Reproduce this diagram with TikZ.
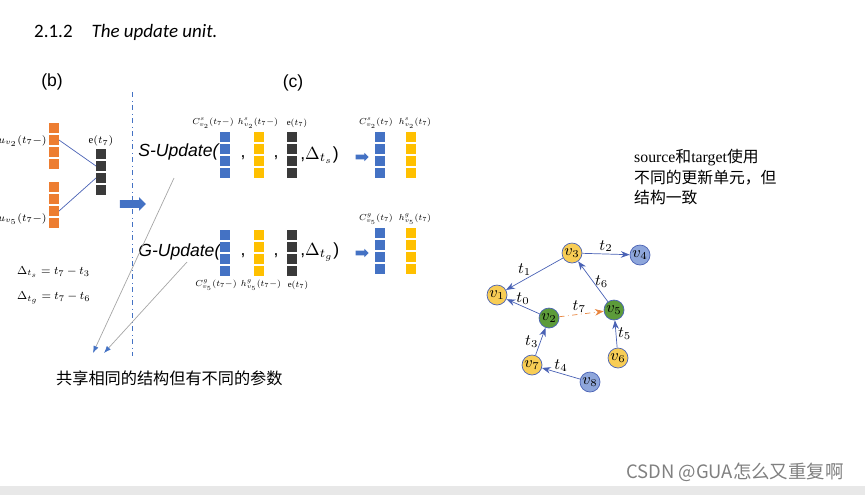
\documentclass[tikz,border=0pt]{standalone}
\usepackage{fontspec}
\setmainfont{Liberation Serif}
\newfontfamily\cjk{Noto Sans CJK SC}
\newfontfamily\arialfont{Liberation Sans}
\newfontfamily\titlefont{Carlito}
\usetikzlibrary{arrows.meta,shapes.arrows}

\definecolor{cellorange}{HTML}{ED7D31}
\definecolor{cellblue}{HTML}{4472C4}
\definecolor{cellyellow}{HTML}{FFC000}
\definecolor{cellblack}{HTML}{3A3A3A}
\definecolor{edgeblue}{HTML}{4A62B5}
\definecolor{nodeyellow}{HTML}{F8CD55}
\definecolor{nodeblue}{HTML}{8EA6DB}
\definecolor{nodegreen}{HTML}{5C9B3A}
\definecolor{tdash}{HTML}{E8853F}

\tikzset{
  cell/.style={minimum size=0.2cm, inner sep=0pt, outer sep=0pt},
  lbl/.style={font=\scriptsize, inner sep=0pt, scale=0.71, transform shape},
  ulbl/.style={font=\scriptsize, inner sep=0pt, scale=0.86, transform shape},
  eqn/.style={font=\footnotesize, scale=0.82, transform shape, anchor=west},
  upd/.style={font=\arialfont\itshape, inner sep=0pt},
  blockarrow/.style={single arrow, fill=cellblue, inner sep=2pt,
    single arrow head extend=1.7pt},
  smallarrow/.style={single arrow, fill=cellblue, inner sep=1.1pt,
    single arrow head extend=1.1pt, minimum height=0.26cm},
  vtx/.style={circle, draw=edgeblue, minimum size=0.4cm, inner sep=0pt, font=\small},
  gedge/.style={edgeblue, -{Stealth[length=5pt]}},
  tl/.style={font=\small, inner sep=1pt, text=black},
}

% column of four cells: name, x, y of top cell, colour
\newcommand\cellcol[4]{%
  \foreach \k in {0,...,3}
    \node[cell, fill=#4] (#1\k) at (#2,{#3+12*\k}) {};}

\begin{document}
\begin{tikzpicture}[x=0.02cm, y=-0.02cm]
  \useasboundingbox (0,0) rectangle (865,495);
  \fill[gray!18] (0,486) rectangle (865,495);

  \node[anchor=west, font=\titlefont\fontsize{10.8}{13}\selectfont] (title) at (28,32)
    {2.1.2\quad\itshape The update unit.};

  % (b)
  \node[font=\arialfont] (lb) at (52,82) {(b)};
  \cellcol{ua}{54}{128}{cellorange}
  \cellcol{ub}{54}{187}{cellorange}
  \cellcol{eb}{101}{154}{cellblack}
  \node[ulbl, anchor=east] (uv2) at (47,141) {$u_{v_2}(t_7-)$};
  \node[ulbl, anchor=east] (uv5) at (47,219) {$u_{v_5}(t_7-)$};
  \node[ulbl] (ebl) at (101,141) {$\mathrm{e}(t_7)$};
  \draw[edgeblue, thin] (ua1.east) -- (eb1.west);
  \draw[edgeblue, thin] (ub2.east) -- (eb2.west);
  \node[eqn] (dts) at (12,272) {$\Delta_{t_s}=t_7-t_3$};
  \node[eqn] (dtg) at (12,298) {$\Delta_{t_g}=t_7-t_6$};

  \draw[cellblue, dash dot, thin] (132,92) -- (132,356);
  \node[blockarrow, minimum height=0.52cm] (big) at (131,204) {};

  % (c)
  \node[font=\arialfont] (lc) at (293,83) {(c)};

  % S-Update row
  \node[upd, anchor=west] (su) at (138,152) {S-Update(};
  \cellcol{sc}{225}{137}{cellblue}
  \cellcol{sh}{259}{137}{cellyellow}
  \cellcol{se}{292}{137}{cellblack}
  \node[font=\arialfont] (sk1) at (243,158) {,};
  \node[font=\arialfont] (sk2) at (276,158) {,};
  \node[anchor=west, inner sep=0pt] (sd) at (300,155) {\arialfont,$\Delta_{t_s}$\arialfont)};
  \node[smallarrow] (sa) at (361,157) {};
  \cellcol{so}{380}{137}{cellblue}
  \cellcol{sp}{411}{137}{cellyellow}
  \node[lbl] (scl) at (213,123) {$C^{s}_{v_2}(t_7-)$};
  \node[lbl] (shl) at (258,123) {$h^{s}_{v_2}(t_7-)$};
  \node[lbl] (sel) at (297,123) {$\mathrm{e}(t_7)$};
  \node[lbl] (sol) at (376,123) {$C^{s}_{v_2}(t_7)$};
  \node[lbl] (spl) at (415,123) {$h^{s}_{v_2}(t_7)$};

  % G-Update row
  \node[upd, anchor=west] (gu) at (138,252) {G-Update(};
  \cellcol{gc}{225}{235}{cellblue}
  \cellcol{gh}{259}{235}{cellyellow}
  \cellcol{ge}{292}{235}{cellblack}
  \node[font=\arialfont] (gk1) at (243,256) {,};
  \node[font=\arialfont] (gk2) at (276,256) {,};
  \node[anchor=west, inner sep=0pt] (gd) at (300,252) {\arialfont,$\Delta_{t_g}$\arialfont)};
  \node[smallarrow] (ga) at (361,253) {};
  \cellcol{go}{380}{233}{cellblue}
  \cellcol{gp}{411}{233}{cellyellow}
  \node[lbl] (gcl) at (216,285) {$C^{g}_{v_5}(t_7-)$};
  \node[lbl] (ghl) at (261,285) {$h^{g}_{v_5}(t_7-)$};
  \node[lbl] (gel) at (298,285) {$\mathrm{e}(t_7)$};
  \node[lbl] (gol) at (376,219) {$C^{g}_{v_5}(t_7)$};
  \node[lbl] (gpl) at (415,219) {$h^{g}_{v_5}(t_7)$};

  % shared parameters note
  \coordinate (p1) at (174,178);
  \coordinate (p2) at (187,262);
  \coordinate (q1) at (93,353);
  \coordinate (q2) at (104,353);
  \draw[gray!70, thin, -{Latex[length=4pt, color=cellblue]}] (p1) -- (q1);
  \draw[gray!70, thin, -{Latex[length=4pt, color=cellblue]}] (p2) -- (q2);
  \node[font=\cjk\fontsize{9.2}{11}\selectfont, anchor=west] (share) at (50,378) {共享相同的结构但有不同的参数};

  \node[anchor=west, align=left, font=\fontsize{9}{11.4}\selectfont] (note) at (628,177)
    {source{\cjk 和}target{\cjk 使用}\\{\cjk 不同的更新单元，但}\\{\cjk 结构一致}};

  % graph
  \node[vtx, fill=nodeyellow] (v3) at (572,253) {$v_3$};
  \node[vtx, fill=nodeblue] (v4) at (640,255) {$v_4$};
  \node[vtx, fill=nodeyellow] (v1) at (497,295) {$v_1$};
  \node[vtx, fill=nodegreen] (v2) at (549,318) {$v_2$};
  \node[vtx, fill=nodegreen] (v5) at (614,310) {$v_5$};
  \node[vtx, fill=nodeyellow] (v6) at (618,358) {$v_6$};
  \node[vtx, fill=nodeyellow] (v7) at (532,365) {$v_7$};
  \node[vtx, fill=nodeblue] (v8) at (590,382) {$v_8$};

  \draw[gedge] (v3) -- node[tl, above] {$t_2$} (v4);
  \draw[gedge] (v3) -- node[tl, above left, pos=0.55, inner sep=0pt] {$t_1$} (v1);
  \draw[gedge] (v2) -- node[tl, above] {$t_0$} (v1);
  \draw[tdash, dash dot, -{Stealth[length=5pt]}] (v2) -- node[tl, above, pos=0.45] {$t_7$} (v5);
  \draw[gedge] (v5) -- node[tl, right] {$t_6$} (v3);
  \draw[gedge] (v6) -- node[tl, right] {$t_5$} (v5);
  \draw[gedge] (v7) -- node[tl, left] {$t_3$} (v2);
  \draw[gedge] (v8) -- node[tl, above] {$t_4$} (v7);

  \node[anchor=west, text=gray, font=\cjk\fontsize{10.5}{12}\selectfont] (mark) at (620,472) {CSDN @GUA怎么又重复啊};
\end{tikzpicture}
\end{document}
